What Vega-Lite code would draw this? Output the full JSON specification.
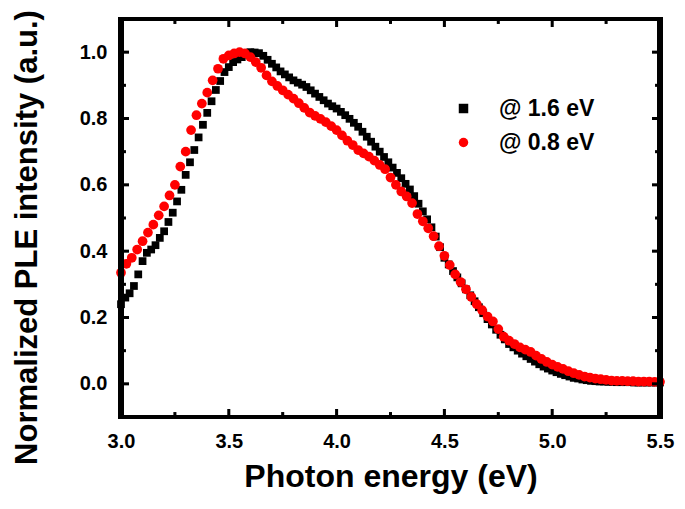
{
  "$schema": "https://vega.github.io/schema/vega-lite/v6.json",
  "width": 539,
  "height": 398,
  "autosize": {"type": "none"},
  "padding": {"left": 121, "top": 19, "right": 25, "bottom": 92},
  "background": "white",
  "config": {
    "view": {"stroke": null},
    "axis": {
      "grid": false,
      "domain": false,
      "ticks": false,
      "labelFont": "Liberation Sans",
      "labelFontWeight": "bold",
      "labelFontSize": 20,
      "labelColor": "black",
      "titleFont": "Liberation Sans",
      "titleFontWeight": "bold",
      "titleColor": "black"
    },
    "legend": {
      "labelFont": "Liberation Sans",
      "labelFontWeight": "bold",
      "labelFontSize": 23,
      "labelColor": "black"
    }
  },
  "datasets": {
    "xt": [{"t":3.0,"k":"M"},{"t":3.25,"k":"m"},{"t":3.5,"k":"M"},{"t":3.75,"k":"m"},{"t":4.0,"k":"M"},{"t":4.25,"k":"m"},{"t":4.5,"k":"M"},{"t":4.75,"k":"m"},{"t":5.0,"k":"M"},{"t":5.25,"k":"m"},{"t":5.5,"k":"M"}],
    "yt": [{"t":0.0,"k":"M"},{"t":0.1,"k":"m"},{"t":0.2,"k":"M"},{"t":0.3,"k":"m"},{"t":0.4,"k":"M"},{"t":0.5,"k":"m"},{"t":0.6,"k":"M"},{"t":0.7,"k":"m"},{"t":0.8,"k":"M"},{"t":0.9,"k":"m"},{"t":1.0,"k":"M"}]
  },
  "data": {
    "values": [
      {"e":3.00,"v":0.240,"s":"@ 1.6 eV"},{"e":3.02,"v":0.260,"s":"@ 1.6 eV"},{"e":3.04,"v":0.273,"s":"@ 1.6 eV"},{"e":3.06,"v":0.295,"s":"@ 1.6 eV"},{"e":3.08,"v":0.330,"s":"@ 1.6 eV"},{"e":3.10,"v":0.370,"s":"@ 1.6 eV"},{"e":3.12,"v":0.395,"s":"@ 1.6 eV"},{"e":3.14,"v":0.405,"s":"@ 1.6 eV"},{"e":3.16,"v":0.418,"s":"@ 1.6 eV"},{"e":3.18,"v":0.440,"s":"@ 1.6 eV"},
      {"e":3.20,"v":0.460,"s":"@ 1.6 eV"},{"e":3.22,"v":0.488,"s":"@ 1.6 eV"},{"e":3.24,"v":0.516,"s":"@ 1.6 eV"},{"e":3.26,"v":0.550,"s":"@ 1.6 eV"},{"e":3.28,"v":0.585,"s":"@ 1.6 eV"},{"e":3.30,"v":0.630,"s":"@ 1.6 eV"},{"e":3.32,"v":0.668,"s":"@ 1.6 eV"},{"e":3.34,"v":0.705,"s":"@ 1.6 eV"},{"e":3.36,"v":0.743,"s":"@ 1.6 eV"},{"e":3.38,"v":0.781,"s":"@ 1.6 eV"},
      {"e":3.40,"v":0.817,"s":"@ 1.6 eV"},{"e":3.42,"v":0.852,"s":"@ 1.6 eV"},{"e":3.44,"v":0.886,"s":"@ 1.6 eV"},{"e":3.46,"v":0.913,"s":"@ 1.6 eV"},{"e":3.48,"v":0.940,"s":"@ 1.6 eV"},{"e":3.50,"v":0.955,"s":"@ 1.6 eV"},{"e":3.52,"v":0.970,"s":"@ 1.6 eV"},{"e":3.54,"v":0.978,"s":"@ 1.6 eV"},{"e":3.56,"v":0.985,"s":"@ 1.6 eV"},{"e":3.58,"v":0.993,"s":"@ 1.6 eV"},
      {"e":3.60,"v":1.000,"s":"@ 1.6 eV"},{"e":3.62,"v":0.999,"s":"@ 1.6 eV"},{"e":3.64,"v":0.997,"s":"@ 1.6 eV"},{"e":3.66,"v":0.989,"s":"@ 1.6 eV"},{"e":3.68,"v":0.977,"s":"@ 1.6 eV"},{"e":3.70,"v":0.965,"s":"@ 1.6 eV"},{"e":3.72,"v":0.954,"s":"@ 1.6 eV"},{"e":3.74,"v":0.942,"s":"@ 1.6 eV"},{"e":3.76,"v":0.933,"s":"@ 1.6 eV"},{"e":3.78,"v":0.924,"s":"@ 1.6 eV"},
      {"e":3.80,"v":0.915,"s":"@ 1.6 eV"},{"e":3.82,"v":0.908,"s":"@ 1.6 eV"},{"e":3.84,"v":0.902,"s":"@ 1.6 eV"},{"e":3.86,"v":0.895,"s":"@ 1.6 eV"},{"e":3.88,"v":0.885,"s":"@ 1.6 eV"},{"e":3.90,"v":0.875,"s":"@ 1.6 eV"},{"e":3.92,"v":0.865,"s":"@ 1.6 eV"},{"e":3.94,"v":0.855,"s":"@ 1.6 eV"},{"e":3.96,"v":0.845,"s":"@ 1.6 eV"},{"e":3.98,"v":0.837,"s":"@ 1.6 eV"},
      {"e":4.00,"v":0.830,"s":"@ 1.6 eV"},{"e":4.02,"v":0.820,"s":"@ 1.6 eV"},{"e":4.04,"v":0.810,"s":"@ 1.6 eV"},{"e":4.06,"v":0.799,"s":"@ 1.6 eV"},{"e":4.08,"v":0.787,"s":"@ 1.6 eV"},{"e":4.10,"v":0.775,"s":"@ 1.6 eV"},{"e":4.12,"v":0.760,"s":"@ 1.6 eV"},{"e":4.14,"v":0.745,"s":"@ 1.6 eV"},{"e":4.16,"v":0.730,"s":"@ 1.6 eV"},{"e":4.18,"v":0.715,"s":"@ 1.6 eV"},
      {"e":4.20,"v":0.700,"s":"@ 1.6 eV"},{"e":4.22,"v":0.684,"s":"@ 1.6 eV"},{"e":4.24,"v":0.668,"s":"@ 1.6 eV"},{"e":4.26,"v":0.652,"s":"@ 1.6 eV"},{"e":4.28,"v":0.636,"s":"@ 1.6 eV"},{"e":4.30,"v":0.620,"s":"@ 1.6 eV"},{"e":4.32,"v":0.603,"s":"@ 1.6 eV"},{"e":4.34,"v":0.586,"s":"@ 1.6 eV"},{"e":4.36,"v":0.566,"s":"@ 1.6 eV"},{"e":4.38,"v":0.543,"s":"@ 1.6 eV"},
      {"e":4.40,"v":0.520,"s":"@ 1.6 eV"},{"e":4.42,"v":0.496,"s":"@ 1.6 eV"},{"e":4.44,"v":0.472,"s":"@ 1.6 eV"},{"e":4.46,"v":0.444,"s":"@ 1.6 eV"},{"e":4.48,"v":0.412,"s":"@ 1.6 eV"},{"e":4.50,"v":0.380,"s":"@ 1.6 eV"},{"e":4.52,"v":0.360,"s":"@ 1.6 eV"},{"e":4.54,"v":0.340,"s":"@ 1.6 eV"},{"e":4.56,"v":0.321,"s":"@ 1.6 eV"},{"e":4.58,"v":0.303,"s":"@ 1.6 eV"},
      {"e":4.60,"v":0.285,"s":"@ 1.6 eV"},{"e":4.62,"v":0.267,"s":"@ 1.6 eV"},{"e":4.64,"v":0.249,"s":"@ 1.6 eV"},{"e":4.66,"v":0.231,"s":"@ 1.6 eV"},{"e":4.68,"v":0.213,"s":"@ 1.6 eV"},{"e":4.70,"v":0.195,"s":"@ 1.6 eV"},{"e":4.72,"v":0.179,"s":"@ 1.6 eV"},{"e":4.74,"v":0.163,"s":"@ 1.6 eV"},{"e":4.76,"v":0.148,"s":"@ 1.6 eV"},{"e":4.78,"v":0.134,"s":"@ 1.6 eV"},
      {"e":4.80,"v":0.120,"s":"@ 1.6 eV"},{"e":4.82,"v":0.110,"s":"@ 1.6 eV"},{"e":4.84,"v":0.100,"s":"@ 1.6 eV"},{"e":4.86,"v":0.091,"s":"@ 1.6 eV"},{"e":4.88,"v":0.083,"s":"@ 1.6 eV"},{"e":4.90,"v":0.075,"s":"@ 1.6 eV"},{"e":4.92,"v":0.067,"s":"@ 1.6 eV"},{"e":4.94,"v":0.059,"s":"@ 1.6 eV"},{"e":4.96,"v":0.052,"s":"@ 1.6 eV"},{"e":4.98,"v":0.046,"s":"@ 1.6 eV"},
      {"e":5.00,"v":0.040,"s":"@ 1.6 eV"},{"e":5.02,"v":0.035,"s":"@ 1.6 eV"},{"e":5.04,"v":0.030,"s":"@ 1.6 eV"},{"e":5.06,"v":0.026,"s":"@ 1.6 eV"},{"e":5.08,"v":0.022,"s":"@ 1.6 eV"},{"e":5.10,"v":0.018,"s":"@ 1.6 eV"},{"e":5.12,"v":0.016,"s":"@ 1.6 eV"},{"e":5.14,"v":0.013,"s":"@ 1.6 eV"},{"e":5.16,"v":0.011,"s":"@ 1.6 eV"},{"e":5.18,"v":0.009,"s":"@ 1.6 eV"},
      {"e":5.20,"v":0.008,"s":"@ 1.6 eV"},{"e":5.22,"v":0.007,"s":"@ 1.6 eV"},{"e":5.24,"v":0.007,"s":"@ 1.6 eV"},{"e":5.26,"v":0.006,"s":"@ 1.6 eV"},{"e":5.28,"v":0.006,"s":"@ 1.6 eV"},{"e":5.30,"v":0.005,"s":"@ 1.6 eV"},{"e":5.32,"v":0.005,"s":"@ 1.6 eV"},{"e":5.34,"v":0.005,"s":"@ 1.6 eV"},{"e":5.36,"v":0.005,"s":"@ 1.6 eV"},{"e":5.38,"v":0.004,"s":"@ 1.6 eV"},
      {"e":5.40,"v":0.004,"s":"@ 1.6 eV"},{"e":5.42,"v":0.004,"s":"@ 1.6 eV"},{"e":5.44,"v":0.004,"s":"@ 1.6 eV"},{"e":5.46,"v":0.004,"s":"@ 1.6 eV"},{"e":5.48,"v":0.004,"s":"@ 1.6 eV"},{"e":5.50,"v":0.004,"s":"@ 1.6 eV"},

      {"e":3.000,"v":0.335,"s":"@ 0.8 eV"},{"e":3.025,"v":0.362,"s":"@ 0.8 eV"},{"e":3.050,"v":0.380,"s":"@ 0.8 eV"},{"e":3.075,"v":0.405,"s":"@ 0.8 eV"},{"e":3.100,"v":0.430,"s":"@ 0.8 eV"},{"e":3.125,"v":0.456,"s":"@ 0.8 eV"},{"e":3.150,"v":0.480,"s":"@ 0.8 eV"},{"e":3.175,"v":0.508,"s":"@ 0.8 eV"},
      {"e":3.200,"v":0.535,"s":"@ 0.8 eV"},{"e":3.225,"v":0.568,"s":"@ 0.8 eV"},{"e":3.250,"v":0.600,"s":"@ 0.8 eV"},{"e":3.275,"v":0.655,"s":"@ 0.8 eV"},{"e":3.300,"v":0.700,"s":"@ 0.8 eV"},{"e":3.325,"v":0.765,"s":"@ 0.8 eV"},{"e":3.350,"v":0.810,"s":"@ 0.8 eV"},{"e":3.375,"v":0.845,"s":"@ 0.8 eV"},
      {"e":3.400,"v":0.878,"s":"@ 0.8 eV"},{"e":3.425,"v":0.915,"s":"@ 0.8 eV"},{"e":3.450,"v":0.950,"s":"@ 0.8 eV"},{"e":3.475,"v":0.980,"s":"@ 0.8 eV"},{"e":3.500,"v":0.990,"s":"@ 0.8 eV"},{"e":3.525,"v":0.996,"s":"@ 0.8 eV"},{"e":3.550,"v":1.000,"s":"@ 0.8 eV"},{"e":3.575,"v":0.996,"s":"@ 0.8 eV"},
      {"e":3.600,"v":0.985,"s":"@ 0.8 eV"},{"e":3.625,"v":0.970,"s":"@ 0.8 eV"},{"e":3.650,"v":0.953,"s":"@ 0.8 eV"},{"e":3.675,"v":0.930,"s":"@ 0.8 eV"},{"e":3.700,"v":0.912,"s":"@ 0.8 eV"},{"e":3.725,"v":0.898,"s":"@ 0.8 eV"},{"e":3.750,"v":0.885,"s":"@ 0.8 eV"},{"e":3.775,"v":0.872,"s":"@ 0.8 eV"},
      {"e":3.800,"v":0.860,"s":"@ 0.8 eV"},{"e":3.825,"v":0.846,"s":"@ 0.8 eV"},{"e":3.850,"v":0.832,"s":"@ 0.8 eV"},{"e":3.875,"v":0.818,"s":"@ 0.8 eV"},{"e":3.900,"v":0.808,"s":"@ 0.8 eV"},{"e":3.925,"v":0.799,"s":"@ 0.8 eV"},{"e":3.950,"v":0.789,"s":"@ 0.8 eV"},{"e":3.975,"v":0.777,"s":"@ 0.8 eV"},
      {"e":4.000,"v":0.765,"s":"@ 0.8 eV"},{"e":4.025,"v":0.749,"s":"@ 0.8 eV"},{"e":4.050,"v":0.733,"s":"@ 0.8 eV"},{"e":4.075,"v":0.720,"s":"@ 0.8 eV"},{"e":4.100,"v":0.705,"s":"@ 0.8 eV"},{"e":4.125,"v":0.695,"s":"@ 0.8 eV"},{"e":4.150,"v":0.685,"s":"@ 0.8 eV"},{"e":4.175,"v":0.673,"s":"@ 0.8 eV"},
      {"e":4.200,"v":0.660,"s":"@ 0.8 eV"},{"e":4.225,"v":0.647,"s":"@ 0.8 eV"},{"e":4.250,"v":0.622,"s":"@ 0.8 eV"},{"e":4.275,"v":0.600,"s":"@ 0.8 eV"},{"e":4.300,"v":0.580,"s":"@ 0.8 eV"},{"e":4.325,"v":0.565,"s":"@ 0.8 eV"},{"e":4.350,"v":0.545,"s":"@ 0.8 eV"},{"e":4.375,"v":0.512,"s":"@ 0.8 eV"},
      {"e":4.400,"v":0.490,"s":"@ 0.8 eV"},{"e":4.425,"v":0.469,"s":"@ 0.8 eV"},{"e":4.450,"v":0.445,"s":"@ 0.8 eV"},{"e":4.475,"v":0.415,"s":"@ 0.8 eV"},{"e":4.500,"v":0.386,"s":"@ 0.8 eV"},{"e":4.525,"v":0.358,"s":"@ 0.8 eV"},{"e":4.550,"v":0.330,"s":"@ 0.8 eV"},{"e":4.575,"v":0.307,"s":"@ 0.8 eV"},
      {"e":4.600,"v":0.285,"s":"@ 0.8 eV"},{"e":4.625,"v":0.262,"s":"@ 0.8 eV"},{"e":4.650,"v":0.240,"s":"@ 0.8 eV"},{"e":4.675,"v":0.222,"s":"@ 0.8 eV"},{"e":4.700,"v":0.203,"s":"@ 0.8 eV"},{"e":4.725,"v":0.188,"s":"@ 0.8 eV"},{"e":4.750,"v":0.165,"s":"@ 0.8 eV"},{"e":4.775,"v":0.142,"s":"@ 0.8 eV"},
      {"e":4.800,"v":0.130,"s":"@ 0.8 eV"},{"e":4.825,"v":0.120,"s":"@ 0.8 eV"},{"e":4.850,"v":0.110,"s":"@ 0.8 eV"},{"e":4.875,"v":0.103,"s":"@ 0.8 eV"},{"e":4.900,"v":0.096,"s":"@ 0.8 eV"},{"e":4.925,"v":0.085,"s":"@ 0.8 eV"},{"e":4.950,"v":0.075,"s":"@ 0.8 eV"},{"e":4.975,"v":0.066,"s":"@ 0.8 eV"},
      {"e":5.000,"v":0.058,"s":"@ 0.8 eV"},{"e":5.025,"v":0.051,"s":"@ 0.8 eV"},{"e":5.050,"v":0.045,"s":"@ 0.8 eV"},{"e":5.075,"v":0.038,"s":"@ 0.8 eV"},{"e":5.100,"v":0.032,"s":"@ 0.8 eV"},{"e":5.125,"v":0.027,"s":"@ 0.8 eV"},{"e":5.150,"v":0.022,"s":"@ 0.8 eV"},{"e":5.175,"v":0.019,"s":"@ 0.8 eV"},
      {"e":5.200,"v":0.016,"s":"@ 0.8 eV"},{"e":5.225,"v":0.014,"s":"@ 0.8 eV"},{"e":5.250,"v":0.012,"s":"@ 0.8 eV"},{"e":5.275,"v":0.010,"s":"@ 0.8 eV"},{"e":5.300,"v":0.009,"s":"@ 0.8 eV"},{"e":5.325,"v":0.009,"s":"@ 0.8 eV"},{"e":5.350,"v":0.008,"s":"@ 0.8 eV"},{"e":5.375,"v":0.008,"s":"@ 0.8 eV"},
      {"e":5.400,"v":0.007,"s":"@ 0.8 eV"},{"e":5.425,"v":0.007,"s":"@ 0.8 eV"},{"e":5.450,"v":0.007,"s":"@ 0.8 eV"},{"e":5.475,"v":0.006,"s":"@ 0.8 eV"},{"e":5.500,"v":0.006,"s":"@ 0.8 eV"}
    ]
  },
  "layer": [
    {
      "transform": [{"filter": "datum.s === '@ 1.6 eV'"}],
      "mark": {"type": "point", "filled": true, "opacity": 1, "size": 60, "clip": false},
      "encoding": {
        "x": {
          "field": "e", "type": "quantitative",
          "scale": {"domain": [3.0, 5.5], "nice": false, "zero": false},
          "axis": {
            "orient": "bottom",
            "title": "Photon energy (eV)",
            "titleFontSize": 32,
            "titlePadding": 10,
            "values": [3.0, 3.5, 4.0, 4.5, 5.0, 5.5],
            "format": ".1f",
            "labelPadding": 14,
            "labelFlush": false
          }
        },
        "y": {
          "field": "v", "type": "quantitative",
          "scale": {"domain": [-0.1, 1.1], "nice": false, "zero": false},
          "axis": {
            "orient": "left",
            "title": "Normalized PLE intensity (a.u.)",
            "titleFontSize": 31,
            "titlePadding": 36,
            "titleY": 218,
            "values": [0.0, 0.2, 0.4, 0.6, 0.8, 1.0],
            "format": ".1f",
            "labelPadding": 14,
            "labelFlush": false
          }
        },
        "color": {
          "field": "s", "type": "nominal",
          "scale": {"domain": ["@ 1.6 eV", "@ 0.8 eV"], "range": ["#000000", "#ff0000"]},
          "legend": {"title": null, "orient": "none", "legendX": 331, "legendY": 78, "symbolSize": 90, "labelOffset": 24, "rowPadding": 10, "padding": 0}
        },
        "shape": {
          "field": "s", "type": "nominal",
          "scale": {"domain": ["@ 1.6 eV", "@ 0.8 eV"], "range": ["square", "circle"]},
          "legend": {"title": null, "orient": "none", "legendX": 331, "legendY": 78, "symbolSize": 90, "labelOffset": 24, "rowPadding": 10, "padding": 0}
        }
      }
    },
    {
      "transform": [{"filter": "datum.s === '@ 0.8 eV'"}],
      "mark": {"type": "point", "filled": true, "opacity": 1, "size": 95, "clip": false},
      "encoding": {
        "x": {"field": "e", "type": "quantitative", "axis": null},
        "y": {"field": "v", "type": "quantitative", "axis": null},
        "color": {"field": "s", "type": "nominal"},
        "shape": {"field": "s", "type": "nominal"}
      }
    },
    {
      "data": {"name": "xt"},
      "transform": [{"filter": "datum.k === 'M'"}],
      "mark": {"type": "point", "filled": true, "opacity": 1, "color": "#000000", "size": 256, "shape": "M-0.19,0L0.19,0L0.19,-1L-0.19,-1Z"},
      "encoding": {"x": {"field": "t", "type": "quantitative", "axis": null}, "y": {"datum": -0.1, "type": "quantitative", "axis": null}}
    },
    {
      "data": {"name": "xt"},
      "transform": [{"filter": "datum.k === 'm'"}],
      "mark": {"type": "point", "filled": true, "opacity": 1, "color": "#000000", "size": 256, "shape": "M-0.19,0L0.19,0L0.19,-0.62L-0.19,-0.62Z"},
      "encoding": {"x": {"field": "t", "type": "quantitative", "axis": null}, "y": {"datum": -0.1, "type": "quantitative", "axis": null}}
    },
    {
      "data": {"name": "xt"},
      "transform": [{"filter": "datum.k === 'M'"}],
      "mark": {"type": "point", "filled": true, "opacity": 1, "color": "#000000", "size": 256, "shape": "M-0.19,0L0.19,0L0.19,1L-0.19,1Z"},
      "encoding": {"x": {"field": "t", "type": "quantitative", "axis": null}, "y": {"datum": 1.1, "type": "quantitative", "axis": null}}
    },
    {
      "data": {"name": "xt"},
      "transform": [{"filter": "datum.k === 'm'"}],
      "mark": {"type": "point", "filled": true, "opacity": 1, "color": "#000000", "size": 256, "shape": "M-0.19,0L0.19,0L0.19,0.62L-0.19,0.62Z"},
      "encoding": {"x": {"field": "t", "type": "quantitative", "axis": null}, "y": {"datum": 1.1, "type": "quantitative", "axis": null}}
    },
    {
      "data": {"name": "yt"},
      "transform": [{"filter": "datum.k === 'M'"}],
      "mark": {"type": "point", "filled": true, "opacity": 1, "color": "#000000", "size": 256, "shape": "M0,-0.19L1,-0.19L1,0.19L0,0.19Z"},
      "encoding": {"y": {"field": "t", "type": "quantitative", "axis": null}, "x": {"datum": 3.0, "type": "quantitative", "axis": null}}
    },
    {
      "data": {"name": "yt"},
      "transform": [{"filter": "datum.k === 'm'"}],
      "mark": {"type": "point", "filled": true, "opacity": 1, "color": "#000000", "size": 256, "shape": "M0,-0.19L0.62,-0.19L0.62,0.19L0,0.19Z"},
      "encoding": {"y": {"field": "t", "type": "quantitative", "axis": null}, "x": {"datum": 3.0, "type": "quantitative", "axis": null}}
    },
    {
      "data": {"name": "yt"},
      "transform": [{"filter": "datum.k === 'M'"}],
      "mark": {"type": "point", "filled": true, "opacity": 1, "color": "#000000", "size": 256, "shape": "M0,-0.19L-1,-0.19L-1,0.19L0,0.19Z"},
      "encoding": {"y": {"field": "t", "type": "quantitative", "axis": null}, "x": {"datum": 5.5, "type": "quantitative", "axis": null}}
    },
    {
      "data": {"name": "yt"},
      "transform": [{"filter": "datum.k === 'm'"}],
      "mark": {"type": "point", "filled": true, "opacity": 1, "color": "#000000", "size": 256, "shape": "M0,-0.19L-0.62,-0.19L-0.62,0.19L0,0.19Z"},
      "encoding": {"y": {"field": "t", "type": "quantitative", "axis": null}, "x": {"datum": 5.5, "type": "quantitative", "axis": null}}
    },
    {
      "mark": {"type": "point", "filled": true, "opacity": 1, "color": "#000000", "size": 161604, "shape": "M-0.01,-1L0.01,-1L0.01,1L-0.01,1Z"},
      "encoding": {"x": {"datum": 3.0, "type": "quantitative", "axis": null}, "y": {"datum": 0.5, "type": "quantitative", "axis": null}}
    },
    {
      "mark": {"type": "point", "filled": true, "opacity": 1, "color": "#000000", "size": 161604, "shape": "M-0.01,-1L0.01,-1L0.01,1L-0.01,1Z"},
      "encoding": {"x": {"datum": 5.5, "type": "quantitative", "axis": null}, "y": {"datum": 0.5, "type": "quantitative", "axis": null}}
    },
    {
      "mark": {"type": "point", "filled": true, "opacity": 1, "color": "#000000", "size": 294849, "shape": "M-1,-0.0074L1,-0.0074L1,0.0074L-1,0.0074Z"},
      "encoding": {"x": {"datum": 4.25, "type": "quantitative", "axis": null}, "y": {"datum": -0.1, "type": "quantitative", "axis": null}}
    },
    {
      "mark": {"type": "point", "filled": true, "opacity": 1, "color": "#000000", "size": 294849, "shape": "M-1,-0.0074L1,-0.0074L1,0.0074L-1,0.0074Z"},
      "encoding": {"x": {"datum": 4.25, "type": "quantitative", "axis": null}, "y": {"datum": 1.1, "type": "quantitative", "axis": null}}
    }
  ],
  "resolve": {"axis": {"x": "independent", "y": "independent"}}
}
